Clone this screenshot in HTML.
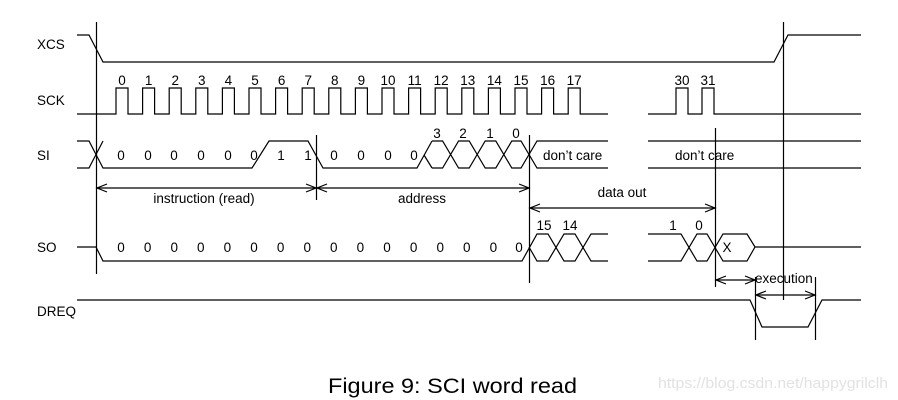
<!DOCTYPE html>
<html><head><meta charset="utf-8"><style>
html,body{margin:0;padding:0;background:#fff;}
svg{display:block;}
text{font-family:"Liberation Sans",Arial,sans-serif;font-size:13.5px;fill:#000;}
</style></head><body>
<svg width="898" height="400" viewBox="0 0 898 400" xmlns="http://www.w3.org/2000/svg">
<g stroke="#000" stroke-width="1.2" fill="none">
<path d="M96.5,22V274 M316.5,135V200 M529.5,135V283 M715.5,128V287 M783.5,22V300 M755.5,277V340 M815.5,277V340"/>
<path d="M77,35H89L103,62H774L788,35H861"/>
<path d="M77,114H116V88H128V114H142.6V88H154.6V114H169.2V88H181.2V114H195.8V88H207.8V114H222.4V88H234.4V114H249V88H261V114H275.6V88H287.6V114H302.2V88H314.2V114H328.8V88H340.8V114H355.4V88H367.4V114H382V88H394V114H408.6V88H420.6V114H435.2V88H447.2V114H461.8V88H473.8V114H488.4V88H500.4V114H515V88H527V114H541.6V88H553.6V114H568.2V88H580.2V114H608"/>
<path d="M648,114H676V88H688V114H702V88H714V114H861"/>
<path d="M77,141H89L103,168H252L269,141H308L323,168H417L432,141"/>
<path d="M77,168H89L103,141"/>
<path d="M424,155L432,168"/>
<path d="M432,141H442.6L458.6,168H469.2L485.2,141H495.8L511.8,168H521L537,141H608"/>
<path d="M432,168H442.6L458.6,141H469.2L485.2,168H495.8L511.8,141H521L537,168H608"/>
<path d="M648,141H861 M648,168H861"/>
<path d="M77,247H96L103,261H522L537,234H548L564,261H575L591,234H608"/>
<path d="M529,247L537,261H548L564,234H575L591,261H608"/>
<path d="M648,234H681L697,261H707L723,234H747L755,247H861"/>
<path d="M648,261H681L697,234H707L723,261H747L755,247"/>
<path d="M77,300H750L762,327H808L822,300H861"/>
<path d="M97,188H316 M317,188H529 M530,208H715 M716,280H755 M756,295H815"/>
<path d="M107,184L97,188L107,192 M306,184L316,188L306,192 M327,184L317,188L327,192 M519,184L529,188L519,192 M540,204L530,208L540,212 M705,204L715,208L705,212 M726,276L716,280L726,284 M745,276L755,280L745,284 M766,291L756,295L766,299 M805,291L815,295L805,299"/>
</g>
<text x="37" y="49">XCS</text>
<text x="37" y="105">SCK</text>
<text x="37" y="160">SI</text>
<text x="37" y="252">SO</text>
<text x="37" y="316">DREQ</text>
<g text-anchor="middle">
<text x="122" y="85">0</text><text x="148.6" y="85">1</text><text x="175.2" y="85">2</text><text x="201.8" y="85">3</text><text x="228.4" y="85">4</text><text x="255" y="85">5</text><text x="281.6" y="85">6</text><text x="308.2" y="85">7</text><text x="334.8" y="85">8</text><text x="361.4" y="85">9</text><text x="388" y="85">10</text><text x="414.6" y="85">11</text><text x="441.2" y="85">12</text><text x="467.8" y="85">13</text><text x="494.4" y="85">14</text><text x="521" y="85">15</text><text x="547.6" y="85">16</text><text x="574.2" y="85">17</text>
<text x="682" y="85">30</text><text x="708" y="85">31</text>
<text x="121" y="160">0</text><text x="148" y="160">0</text><text x="174" y="160">0</text><text x="201" y="160">0</text><text x="228" y="160">0</text><text x="254" y="160">0</text><text x="281" y="160">1</text><text x="308" y="160">1</text><text x="334" y="160">0</text><text x="361" y="160">0</text><text x="388" y="160">0</text><text x="414" y="160">0</text>
<text x="437" y="138">3</text><text x="463" y="138">2</text><text x="490" y="138">1</text><text x="516" y="138">0</text>
<text x="121" y="252">0</text><text x="147.6" y="252">0</text><text x="174.2" y="252">0</text><text x="200.8" y="252">0</text><text x="227.4" y="252">0</text><text x="254" y="252">0</text><text x="280.6" y="252">0</text><text x="307.2" y="252">0</text><text x="333.8" y="252">0</text><text x="360.4" y="252">0</text><text x="387" y="252">0</text><text x="413.6" y="252">0</text><text x="440.2" y="252">0</text><text x="466.8" y="252">0</text><text x="493.4" y="252">0</text><text x="519" y="252">0</text>
<text x="544" y="230">15</text><text x="570" y="230">14</text><text x="673" y="230">1</text><text x="699" y="230">0</text>
<text x="727" y="252">X</text>
<text x="204" y="203">instruction (read)</text>
<text x="422" y="203">address</text>
<text x="622" y="197">data out</text>
</g>
<text x="543" y="160">don’t care</text>
<text x="675" y="160">don’t care</text>
<text x="755" y="283">execution</text>
<text x="328" y="393" textLength="249" lengthAdjust="spacingAndGlyphs" style="font-size:21px">Figure 9: SCI word read</text>
<text x="658" y="388" textLength="230" lengthAdjust="spacingAndGlyphs" style="font-size:15px;fill:#e2e2e2">https://blog.csdn.net/happygrilclh</text>
</svg>
</body></html>
